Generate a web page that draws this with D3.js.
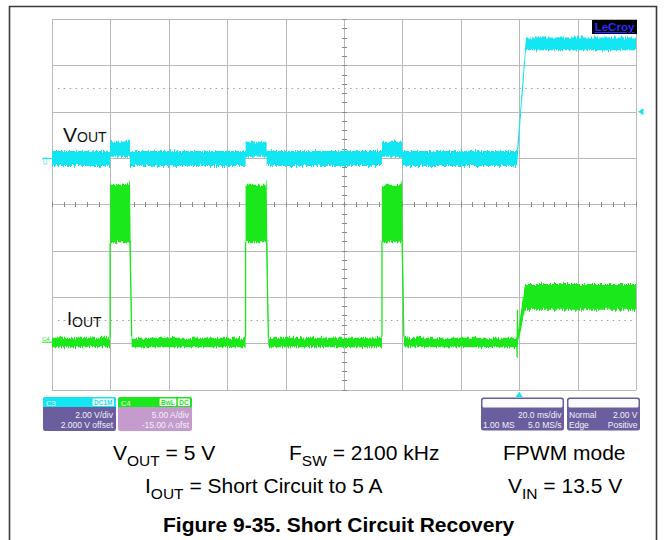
<!DOCTYPE html>
<html><head><meta charset="utf-8">
<script src="https://cdn.jsdelivr.net/npm/d3@7"></script>
<style>
html,body{margin:0;padding:0;background:#fff;}
svg{display:block;font-family:"Liberation Sans",Arial,Helvetica,sans-serif;}
</style></head><body>
<svg id="chart" width="665" height="540"></svg>
<script>
// ---- Acquisition settings ----
const timeDomain = [-160, 40];            // ms, 20 ms/div, trigger 8 div from the left
const timeGrid   = d3.range(-160, 41, 20);
const voutDomain = [-10, 6];              // V, 2 V/div with 2 V offset
const voutGrid   = d3.range(-10, 6.1, 2);
const ioutDomain = [-5, 35];              // A, 5 A/div with -15 A offset
const triggerLevel = 2.0;                 // V on C3

// ---- Hiccup bursts while the output is shorted (ms) ----
const hiccupOn  = [-140.1, -93.7, -47.0];
const hiccupOff = [-133.3, -86.5, -40.1];
// Short removed
const recoveryStart = -0.75;
const recoveryEnd   = 2.3;

// ---- VOUT envelope [low, high] in V ----
const voutShorted   = [-0.35, 0.30];
const voutHiccup    = [0.05, 0.70];
const voutRegulated = [4.65, 5.20];

// ---- IOUT envelope [low, high] in A ----
const ioutOff       = [-0.45, 0.60];
const ioutLimit     = [10.9, 17.1];
const ioutLimitPeak = 17.7;
const ioutLoad      = [3.6, 6.4];
const ioutDip       = -1.6;

// ---- Scope descriptor boxes ----
const c3Lines = ["2.00 V/div", "2.000 V offset"];
const c4Lines = ["5.00 A/div", "-15.00 A ofst"];
const timebaseLines = [["", "20.0 ms/div"], ["1.00 MS", "5.0 MS/s"]];
const triggerLines  = [["Normal", "2.00 V"], ["Edge", "Positive"]];

const CYAN = "#12e6f2", GREEN = "#1be81b";
const svg = d3.select("#chart");
const plot = {left: 52, right: 636, top: 19, bottom: 389.5};

const x  = d3.scaleLinear().domain(timeDomain).range([plot.left, plot.right]);
const yV = d3.scaleLinear().domain(voutDomain).range([plot.bottom, plot.top]);
const yI = d3.scaleLinear().domain(ioutDomain).range([plot.bottom, plot.top]);

// Outer figure frame
svg.append("path")
  .attr("d", "M9.5,545 V6.5 H656.5 V545")
  .attr("fill", "none").attr("stroke", "#3a3a3a").attr("stroke-width", 1.6);

// Trace noise: vertical-only jitter
const defs = svg.append("defs");
const flt = defs.append("filter").attr("id", "jitter")
  .attr("filterUnits", "userSpaceOnUse")
  .attr("x", 40).attr("y", 10).attr("width", 610).attr("height", 390)
  .attr("color-interpolation-filters", "sRGB");
flt.append("feTurbulence").attr("type", "fractalNoise")
  .attr("baseFrequency", "0.85 0.04").attr("numOctaves", 2).attr("seed", 7).attr("result", "n");
flt.append("feColorMatrix").attr("in", "n").attr("type", "matrix")
  .attr("values", "0 0 0 0 0.5  0 1 0 0 0  0 0 0 0 0  0 0 0 0 1").attr("result", "m");
flt.append("feDisplacementMap").attr("in", "SourceGraphic").attr("in2", "m")
  .attr("scale", 7).attr("xChannelSelector", "R").attr("yChannelSelector", "G");

// ---- Graticule ----
const grid = svg.append("g").attr("stroke", "#b9b9b9").attr("stroke-width", 1).attr("shape-rendering", "crispEdges");
grid.selectAll("line.v").data(timeGrid).join("line").attr("class", "v")
  .attr("x1", d => Math.round(x(d)) + 0.5).attr("x2", d => Math.round(x(d)) + 0.5)
  .attr("y1", plot.top).attr("y2", plot.bottom);
grid.selectAll("line.h").data(voutGrid).join("line").attr("class", "h")
  .attr("y1", d => Math.round(yV(d)) + 0.5).attr("y2", d => Math.round(yV(d)) + 0.5)
  .attr("x1", plot.left).attr("x2", plot.right);

// Dotted reference rows
const dotRows = [3, -7];
svg.append("g").selectAll("line").data(dotRows).join("line")
  .attr("x1", plot.left + 6).attr("x2", plot.right - 4)
  .attr("y1", d => Math.round(yV(d)) + 0.5).attr("y2", d => Math.round(yV(d)) + 0.5)
  .attr("stroke", "#a0a0a0").attr("stroke-width", 1.2).attr("stroke-dasharray", "1.5 4.34");

// Centre-axis minor ticks
const tMid = (timeDomain[0] + timeDomain[1]) / 2, vMid = (voutDomain[0] + voutDomain[1]) / 2;
const ticks = svg.append("g").attr("stroke", "#8a8a8a").attr("stroke-width", 1).attr("shape-rendering", "crispEdges");
ticks.selectAll("line.tx").data(d3.range(timeDomain[0], timeDomain[1] + 0.01, 4)).join("line").attr("class", "tx")
  .attr("x1", d => Math.round(x(d)) + 0.5).attr("x2", d => Math.round(x(d)) + 0.5)
  .attr("y1", yV(vMid) - 2.5).attr("y2", yV(vMid) + 3);
ticks.selectAll("line.ty").data(d3.range(voutDomain[0], voutDomain[1] + 0.01, 0.4)).join("line").attr("class", "ty")
  .attr("y1", d => Math.round(yV(d)) + 0.5).attr("y2", d => Math.round(yV(d)) + 0.5)
  .attr("x1", x(tMid) - 2.5).attr("x2", x(tMid) + 3);

// ---- Trace envelopes ----
function pushSeg(arr, t0, t1, band, peak) {
  arr.push({t: t0, lo: band[0], hi: band[1]});
  if (peak !== undefined) {
    arr.push({t: t1 - 0.4, lo: band[0], hi: band[1]});
    arr.push({t: t1, lo: band[0], hi: peak});
  } else {
    arr.push({t: t1, lo: band[0], hi: band[1]});
  }
}

const voutPts = [];
let tPrev = timeDomain[0];
hiccupOn.forEach((on, i) => {
  pushSeg(voutPts, tPrev, on, voutShorted);
  pushSeg(voutPts, on, hiccupOff[i], voutHiccup);
  tPrev = hiccupOff[i];
});
pushSeg(voutPts, tPrev, recoveryStart, voutShorted);
pushSeg(voutPts, recoveryEnd, timeDomain[1], voutRegulated);

const ioutPts = [];
tPrev = timeDomain[0];
hiccupOn.forEach((on, i) => {
  pushSeg(ioutPts, tPrev, on, ioutOff);
  pushSeg(ioutPts, on, hiccupOff[i], ioutLimit, ioutLimitPeak);
  tPrev = hiccupOff[i] + 0.6;
});
pushSeg(ioutPts, tPrev, recoveryStart, ioutOff);
pushSeg(ioutPts, recoveryEnd - 0.3, timeDomain[1], ioutLoad);

const traces = svg.append("g").attr("filter", "url(#jitter)");

const ioutArea = d3.area().x(d => x(d.t)).y0(d => yI(d.lo)).y1(d => yI(d.hi));
traces.append("path").attr("d", ioutArea(ioutPts)).attr("fill", GREEN);

// Current-limit edges (thin rising/falling transitions)
const lineI = d3.line().x(d => x(d[0])).y(d => yI(d[1]));
hiccupOn.forEach((on, i) => {
  traces.append("path").attr("d", lineI([[on, ioutOff[1]], [on, ioutLimit[0]]]))
    .attr("stroke", GREEN).attr("stroke-width", 1.3).attr("fill", "none");
  traces.append("path").attr("d", lineI([[hiccupOff[i], ioutLimit[0]], [hiccupOff[i] + 0.6, ioutOff[1]]]))
    .attr("stroke", GREEN).attr("stroke-width", 1.3).attr("fill", "none");
});
// Undershoot when the short is released
traces.append("path").attr("d", lineI([[recoveryStart, ioutOff[1]], [recoveryStart, ioutDip], [recoveryStart + 0.2, ioutLoad[0]]]))
  .attr("stroke", GREEN).attr("stroke-width", 1.3).attr("fill", "none");

const voutArea = d3.area().x(d => x(d.t)).y0(d => yV(d.lo)).y1(d => yV(d.hi));
traces.append("path").attr("d", voutArea(voutPts)).attr("fill", CYAN);

// ---- Channel markers ----
svg.append("line").attr("x1", 42).attr("x2", plot.left).attr("y1", yV(0) + 0.5).attr("y2", yV(0) + 0.5)
  .attr("stroke", CYAN).attr("stroke-width", 1);
svg.append("text").attr("transform", `translate(47,${yV(0) + 3}) rotate(-90)`)
  .attr("font-size", 6).attr("fill", CYAN).attr("text-anchor", "middle").text("C3");
svg.append("line").attr("x1", 42).attr("x2", plot.left).attr("y1", yI(0) - 1).attr("y2", yI(0) - 1)
  .attr("stroke", GREEN).attr("stroke-width", 1);
svg.append("text").attr("x", 42).attr("y", yI(0) - 2.5).attr("font-size", 6).attr("fill", GREEN).text("C4");

// Trigger level (right edge) and trigger time (bottom edge)
const ty = yV(triggerLevel);
svg.append("path").attr("d", `M638,${ty} L643.5,${ty - 3.5} L643.5,${ty + 3.5} Z`).attr("fill", CYAN);
const tx0 = x(0);
svg.append("path").attr("d", `M${tx0},${plot.bottom + 2} L${tx0 - 3.5},${plot.bottom + 7.5} L${tx0 + 3.5},${plot.bottom + 7.5} Z`).attr("fill", CYAN);

// Scope logo
svg.append("rect").attr("x", 592).attr("y", 20).attr("width", 45).attr("height", 14).attr("fill", "#000");
svg.append("text").attr("x", 614.5).attr("y", 31).attr("text-anchor", "middle")
  .attr("font-size", 11.5).attr("font-weight", "bold").attr("fill", "#2b2bff")
  .attr("text-decoration", "underline").text("LeCroy");

// Trace labels
const vlab = svg.append("text").attr("x", 63).attr("y", 141.5).attr("font-size", 21).attr("fill", "#111");
vlab.append("tspan").text("V");
vlab.append("tspan").attr("font-size", 14).text("OUT");
const ilab = svg.append("text").attr("x", 67).attr("y", 324.5).attr("font-size", 18).attr("fill", "#111");
ilab.append("tspan").text("I");
ilab.append("tspan").attr("font-size", 14).attr("dy", 2).text("OUT");

// ---- Descriptor boxes ----
function channelBox(x0, w, head, body, name, badges, lines) {
  const g = svg.append("g");
  g.append("rect").attr("x", x0).attr("y", 397).attr("width", w).attr("height", 34).attr("rx", 2.5).attr("fill", body);
  g.append("rect").attr("x", x0).attr("y", 397).attr("width", w).attr("height", 10).attr("rx", 2.5).attr("fill", head);
  g.append("rect").attr("x", x0).attr("y", 402).attr("width", w).attr("height", 5).attr("fill", head);
  g.append("text").attr("x", x0 + 3).attr("y", 405.5).attr("font-size", 7.5).attr("fill", "#fff").text(name);
  let bx = x0 + w - 2;
  badges.slice().reverse().forEach(b => {
    const bw = b.length * 4.6 + 3;
    bx -= bw;
    g.append("rect").attr("x", bx).attr("y", 398.5).attr("width", bw).attr("height", 7.5).attr("fill", "#fff").attr("rx", 1);
    g.append("text").attr("x", bx + bw / 2).attr("y", 405).attr("text-anchor", "middle")
      .attr("font-size", 6.5).attr("font-weight", "bold").attr("fill", head).text(b);
    bx -= 1.5;
  });
  lines.forEach((s, i) => g.append("text").attr("x", x0 + w - 3).attr("y", 417.5 + i * 10.5)
    .attr("text-anchor", "end").attr("font-size", 8.5).attr("fill", "#f2f0fa").text(s));
}
channelBox(43, 73, CYAN, "#6a5e9e", "C3", ["DC1M"], c3Lines);
channelBox(118, 74, GREEN, "#c49bcc", "C4", ["BwL", "DC"], c4Lines);

function infoBox(x0, w, rows) {
  const g = svg.append("g");
  g.append("rect").attr("x", x0).attr("y", 397.5).attr("width", w).attr("height", 33).attr("rx", 2.5).attr("fill", "#6a5e9e");
  g.append("rect").attr("x", x0 + 1.5).attr("y", 399).attr("width", w - 3).attr("height", 8.5).attr("rx", 1.5).attr("fill", "#fbfbfd");
  rows.forEach((r, i) => {
    const yy = 417.5 + i * 10.5;
    if (r[0]) g.append("text").attr("x", x0 + 2).attr("y", yy).attr("font-size", 8.5).attr("fill", "#f2f0fa").text(r[0]);
    g.append("text").attr("x", x0 + w - 2.5).attr("y", yy).attr("text-anchor", "end").attr("font-size", 8.5).attr("fill", "#f2f0fa").text(r[1]);
  });
}
infoBox(481, 83, timebaseLines);
infoBox(567, 73, triggerLines);

// ---- Test conditions and caption ----
function condText(x0, y0, main, sub, rest) {
  const t = svg.append("text").attr("x", x0).attr("y", y0).attr("font-size", 21).attr("fill", "#000");
  t.append("tspan").text(main);
  if (sub) {
    t.append("tspan").attr("font-size", 15.5).attr("dy", 6).text(sub);
    t.append("tspan").attr("dy", -6).text(rest);
  }
}
condText(113, 460, "V", "OUT", " = 5 V");
condText(289, 460, "F", "SW", " = 2100 kHz");
condText(503, 460, "FPWM mode");
condText(145, 493, "I", "OUT", " = Short Circuit to 5 A");
condText(508, 493, "V", "IN", " = 13.5 V");

svg.append("text").attr("x", 163).attr("y", 531.5).attr("font-size", 21).attr("font-weight", "bold")
  .attr("fill", "#000").text("Figure 9-35. Short Circuit Recovery");
</script>
</body></html>
